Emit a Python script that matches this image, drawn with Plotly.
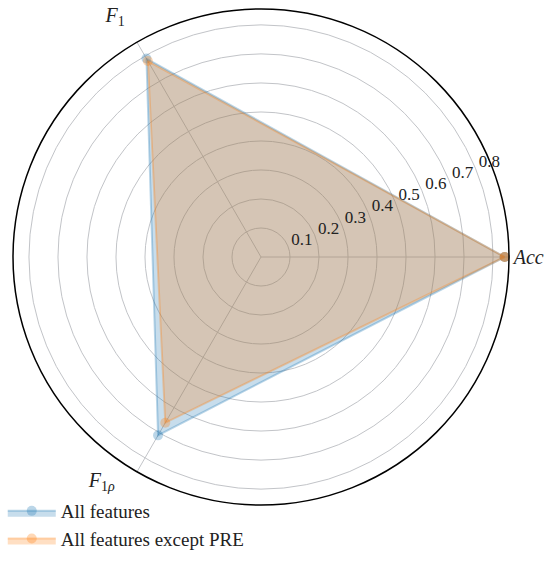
import plotly.graph_objects as go

categories = ["<i>Acc</i>",
              '<span style="baseline-shift:16px"><i>F</i><sub>1</sub></span>\u00a0\u00a0',
              '<span style="baseline-shift:10px"><i>F</i><sub>1<i>ρ</i></sub></span>\u00a0\u00a0\u00a0\u00a0']
angles = [0, 120, 240]
all_features = [0.84, 0.79, 0.71]
except_pre = [0.84, 0.78, 0.66]
radial_ticks = [0.1, 0.2, 0.3, 0.4, 0.5, 0.6, 0.7, 0.8]

fig = go.Figure()
series = [
    ("All features", all_features, "rgba(31,119,180,0.3)", "rgba(31,119,180,0.25)"),
    ("All features except PRE", except_pre, "rgba(255,127,14,0.3)", "rgba(255,127,14,0.25)"),
]
for name, vals, lc, fc in series:
    fig.add_trace(go.Scatterpolar(
        r=vals + [vals[0]], theta=angles + [angles[0]], name=name,
        mode="lines+markers", fill="toself", fillcolor=fc,
        line=dict(color=lc, width=2),
        marker=dict(size=10, color=lc),
    ))

W, H = 550, 575
cx, cy, rad = 261, 257, 248
fig.update_layout(
    width=W, height=H, margin=dict(l=0, r=0, t=0, b=0),
    paper_bgcolor="white",
    font=dict(family="Liberation Serif", size=14, color="#222"),
    polar=dict(
        domain=dict(x=[(cx - rad) / W, (cx + rad) / W], y=[1 - (cy + rad) / H, 1 - (cy - rad) / H]),
        bgcolor="white",
        radialaxis=dict(range=[0, 0.855], tickvals=radial_ticks,
                        ticktext=['<span style="baseline-shift:18px">%s</span>' % t for t in radial_ticks],
                        angle=22.5, tickangle=22.5, side="clockwise", showline=False, ticks="",
                        gridcolor="#c2c4c8", gridwidth=1,
                        tickfont=dict(family="Liberation Serif", size=17, color="#222")),
        angularaxis=dict(tickvals=angles, ticktext=categories, direction="counterclockwise", rotation=0,
                         showline=True, linecolor="black", linewidth=1.5, gridcolor="#c2c4c8", gridwidth=1,
                         ticks="", tickfont=dict(family="Liberation Serif", size=20, color="#222")),
    ),
    legend=dict(x=0.005, y=1 - 492 / H, xanchor="left", yanchor="top", bgcolor="rgba(0,0,0,0)",
                itemwidth=48,
                font=dict(family="Liberation Serif", size=19, color="#222"), tracegroupgap=0),
    showlegend=True,
)
fig.write_html("out.html", config={"displayModeBar": False},
               post_script="document.body.style.margin='0';")
